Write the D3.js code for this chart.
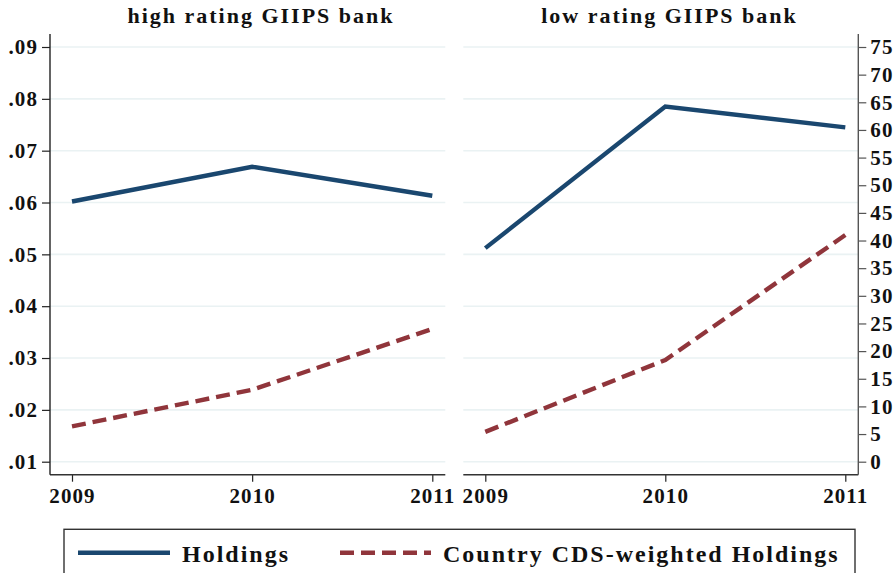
<!DOCTYPE html>
<html>
<head>
<meta charset="utf-8">
<script src="https://cdn.jsdelivr.net/npm/d3@7"></script>
<style>
  html, body { margin: 0; padding: 0; background: #fff; }
  svg { display: block; }
  text { font-family: "Liberation Serif", "Times New Roman", serif; fill: #111; }
</style>
</head>
<body>
<svg id="chart" width="896" height="573"></svg>
<script>
// Years on the x axis
const years = [2009, 2010, 2011];
// Panels (bank rating groups)
const panels = ["high rating GIIPS bank", "low rating GIIPS bank"];
// Holdings share (left axis), per panel
const holdingsHigh = [0.0602, 0.0669, 0.0613];
const holdingsLow = [0.0512, 0.0785, 0.0745];
// Country CDS-weighted holdings (right axis), per panel
const cdsHigh = [6.4, 13.0, 24.0];
const cdsLow = [5.4, 18.4, 41.0];
// Tick values
const leftTicks = [0.01, 0.02, 0.03, 0.04, 0.05, 0.06, 0.07, 0.08, 0.09];
const rightTicks = d3.range(0, 80, 5);
// Legend
const seriesNames = ["Holdings", "Country CDS-weighted Holdings"];

const colors = { holdings: "#1a476f", cds: "#90353b" };

const svg = d3.select("#chart");

const plotTop = 34, plotBottom = 474.7;
const panelBoxes = [
  { x0: 50, x1: 445.3, titleX: 261 },
  { x0: 463.3, x1: 858.3, titleX: 669.5 }
];
const panelData = [
  { title: panels[0], holdings: holdingsHigh, cds: cdsHigh },
  { title: panels[1], holdings: holdingsLow, cds: cdsLow }
];

// Shared y scales: left for holdings, right for CDS-weighted holdings
const yL = d3.scaleLinear().domain([0.01, 0.09]).range([461.7, 47]);
const yR = d3.scaleLinear().domain([0, 75]).range([461.7, 47]);

const fmtL = d => d3.format(".2f")(d).replace(/^0/, "");

function styleTickText(sel) {
  sel.attr("font-size", 21).attr("font-weight", "bold").attr("letter-spacing", 1.1)
    .attr("fill", "#111");
}

panelData.forEach((p, i) => {
  const box = panelBoxes[i];
  const x = d3.scaleLinear().domain([2009, 2011]).range([box.x0 + 22, box.x1 - 13]);
  const g = svg.append("g");

  // Gridlines
  g.selectAll("line.grid").data(leftTicks).join("line")
    .attr("class", "grid")
    .attr("x1", box.x0).attr("x2", box.x1)
    .attr("y1", d => yL(d)).attr("y2", d => yL(d))
    .attr("stroke", "#eaf2f3").attr("stroke-width", 1.6);

  // Bottom axis
  const xAxis = d3.axisBottom(x).tickValues(years).tickFormat(d3.format("d"))
    .tickSizeInner(7).tickSizeOuter(0).tickPadding(6);
  const ax = g.append("g").attr("transform", `translate(0,${plotBottom})`).call(xAxis);
  ax.select(".domain").remove();
  ax.selectAll(".tick line").attr("stroke", "#222").attr("stroke-width", 1.2);
  ax.selectAll(".tick text").call(styleTickText);
  g.append("line")
    .attr("x1", box.x0).attr("x2", box.x1)
    .attr("y1", plotBottom).attr("y2", plotBottom)
    .attr("stroke", "#333").attr("stroke-width", 1.4);

  // Title
  g.append("text")
    .attr("x", box.titleX).attr("y", 23)
    .attr("text-anchor", "middle")
    .attr("font-size", 22).attr("font-weight", "bold").attr("letter-spacing", 2)
    .text(p.title);

  // Series lines
  const lineH = d3.line().x((d, j) => x(years[j])).y(d => yL(d));
  const lineC = d3.line().x((d, j) => x(years[j])).y(d => yR(d));
  g.append("path").datum(p.cds).attr("d", lineC)
    .attr("fill", "none").attr("stroke", colors.cds).attr("stroke-width", 4.4)
    .attr("stroke-dasharray", "14,7").attr("stroke-linejoin", "miter");
  g.append("path").datum(p.holdings).attr("d", lineH)
    .attr("fill", "none").attr("stroke", colors.holdings).attr("stroke-width", 4.4)
    .attr("stroke-linejoin", "miter");
});

// Left axis
const leftAxis = d3.axisLeft(yL).tickValues(leftTicks).tickFormat(fmtL)
  .tickSizeInner(8).tickSizeOuter(0).tickPadding(4);
const la = svg.append("g").attr("transform", `translate(${panelBoxes[0].x0},0)`).call(leftAxis);
la.select(".domain").remove();
la.selectAll(".tick line").attr("stroke", "#222").attr("stroke-width", 1.2);
la.selectAll(".tick text").call(styleTickText);
svg.append("line")
  .attr("x1", panelBoxes[0].x0).attr("x2", panelBoxes[0].x0)
  .attr("y1", plotTop).attr("y2", plotBottom)
  .attr("stroke", "#222").attr("stroke-width", 1.4);

// Right axis
const rightAxis = d3.axisRight(yR).tickValues(rightTicks).tickFormat(d3.format("d"))
  .tickSizeInner(8).tickSizeOuter(0).tickPadding(4);
const ra = svg.append("g").attr("transform", `translate(${panelBoxes[1].x1},0)`).call(rightAxis);
ra.select(".domain").remove();
ra.selectAll(".tick line").attr("stroke", "#555").attr("stroke-width", 1.2);
ra.selectAll(".tick text").call(styleTickText);
svg.append("line")
  .attr("x1", panelBoxes[1].x1).attr("x2", panelBoxes[1].x1)
  .attr("y1", plotTop).attr("y2", plotBottom)
  .attr("stroke", "#555").attr("stroke-width", 1.4);

// Legend
const legend = svg.append("g");
legend.append("rect")
  .attr("x", 64).attr("y", 529.3).attr("width", 791).attr("height", 60)
  .attr("fill", "#fff").attr("stroke", "#333").attr("stroke-width", 1.4);
const legendItems = [
  { name: seriesNames[0], color: colors.holdings, dash: null, x0: 78, x1: 170, tx: 182 },
  { name: seriesNames[1], color: colors.cds, dash: "14,7", x0: 340, x1: 431, tx: 443 }
];
legendItems.forEach(it => {
  legend.append("line")
    .attr("x1", it.x0).attr("x2", it.x1).attr("y1", 552.7).attr("y2", 552.7)
    .attr("stroke", it.color).attr("stroke-width", 4.4)
    .attr("stroke-dasharray", it.dash);
  legend.append("text")
    .attr("x", it.tx).attr("y", 561.5)
    .attr("font-size", 24).attr("font-weight", "bold").attr("letter-spacing", 2)
    .text(it.name);
});
</script>
</body>
</html>
